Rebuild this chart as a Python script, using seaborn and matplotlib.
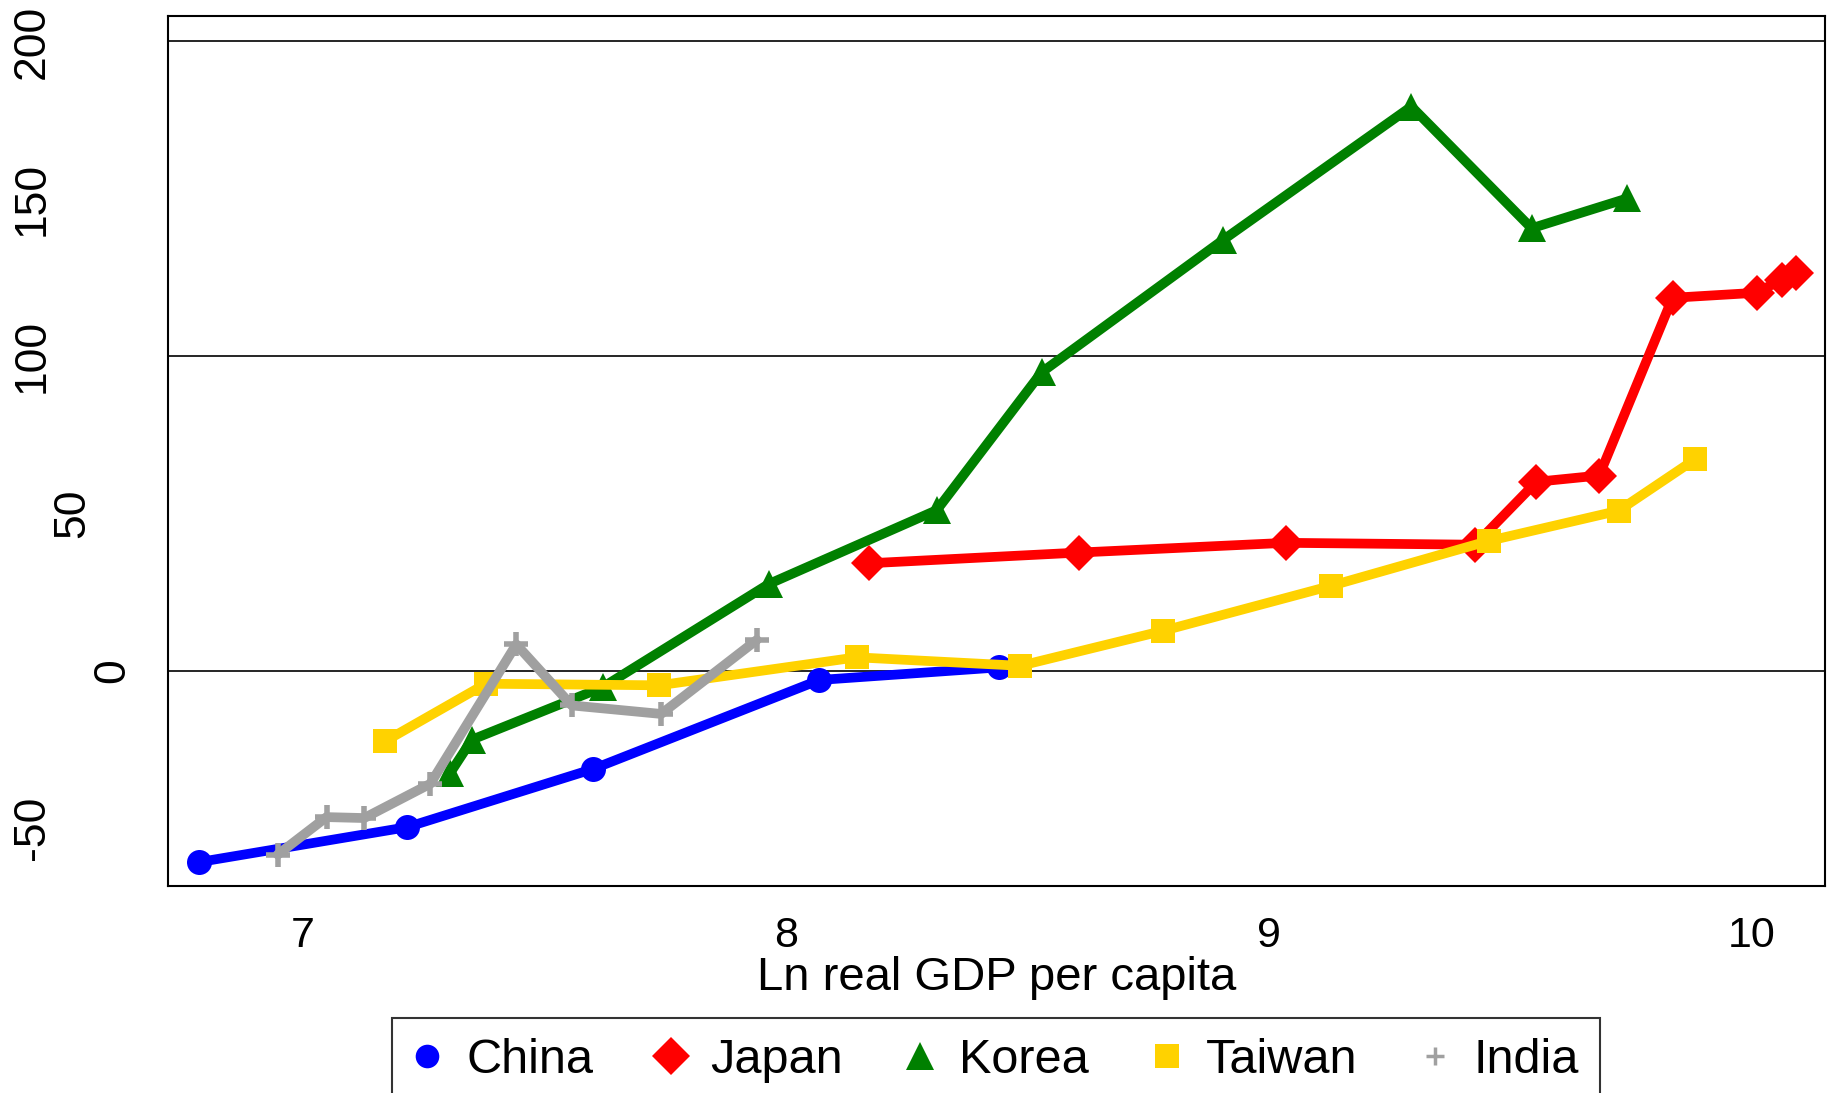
import numpy as np
import pandas as pd
import matplotlib
matplotlib.use("Agg")
import matplotlib.pyplot as plt
import matplotlib.transforms as mtransforms
from matplotlib.lines import Line2D
import seaborn as sns

# Series: log real GDP per capita (x) against the indicator value (y)
china_x = [6.785, 7.216, 7.601, 8.070, 8.442]
china_y = [-60.9, -49.8, -31.3, -3.0, 1.0]
japan_x = [8.173, 8.607, 9.036, 9.428, 9.555, 9.685, 9.837, 10.011, 10.063, 10.092]
japan_y = [34.1, 37.5, 40.6, 40.0, 60.0, 62.0, 118.5, 120.1, 124.3, 126.4]
korea_x = [7.305, 7.350, 7.621, 7.965, 8.313, 8.530, 8.906, 9.296, 9.545, 9.743]
korea_y = [-32.6, -22.0, -5.3, 27.5, 51.0, 94.8, 136.9, 179.3, 140.6, 150.1]
taiwan_x = [7.170, 7.379, 7.738, 8.147, 8.486, 8.781, 9.129, 9.456, 9.725, 9.884]
taiwan_y = [-22.5, -4.2, -4.7, 4.2, 1.5, 12.6, 26.9, 41.2, 50.8, 67.2]
india_x = [6.948, 7.049, 7.127, 7.264, 7.442, 7.557, 7.742, 7.940]
india_y = [-58.5, -46.6, -46.9, -36.0, 8.3, -11.1, -13.8, 9.7]

countries = ["China", "Japan", "Korea", "Taiwan", "India"]
x_ticks = [7, 8, 9, 10]
y_ticks = [-50, 0, 50, 100, 150, 200]
ref_lines = [0, 100, 200]

series = {
    "China": (china_x, china_y),
    "Japan": (japan_x, japan_y),
    "Korea": (korea_x, korea_y),
    "Taiwan": (taiwan_x, taiwan_y),
    "India": (india_x, india_y),
}
frames = [pd.DataFrame({"country": c, "lngdp": xs, "value": ys})
          for c, (xs, ys) in series.items()]
df = pd.concat(frames, ignore_index=True)

colors = {"China": "#0000FF", "Japan": "#FF0000", "Korea": "#008000",
          "Taiwan": "#FFD200", "India": "#A0A0A0"}
styles = {
    "China": dict(marker="o", markersize=18, markeredgewidth=0),
    "Japan": dict(marker="D", markersize=18, markeredgewidth=0),
    "Korea": dict(marker="^", markersize=20, markeredgewidth=0),
    "Taiwan": dict(marker="s", markersize=17, markeredgewidth=0),
    "India": dict(marker="+", markersize=17, markeredgewidth=4),
}

sns.set_style("white")
plt.rcParams["font.family"] = ["Liberation Sans", "DejaVu Sans"]
plt.rcParams["text.color"] = "black"
plt.rcParams["axes.labelcolor"] = "black"

fig = plt.figure(figsize=(18.33, 10.93), dpi=100)
ax = fig.add_axes([0.0917, 0.1894, 0.904, 0.796])

for y in ref_lines:
    ax.axhline(y, color="black", linewidth=1.2, zorder=1)

for c in countries:
    sub = df[df["country"] == c]
    sns.lineplot(data=sub, x="lngdp", y="value", ax=ax, estimator=None,
                 sort=False, legend=False, linewidth=7, zorder=3,
                 color=colors[c], markeredgecolor=colors[c],
                 markerfacecolor=colors[c], **styles[c])

ax.set_xlim(6.7208, 10.1529)
ax.set_ylim(-68.5, 208.1)
ax.set_xticks(x_ticks)
ax.set_yticks(y_ticks)
ax.set_xticklabels([str(t) for t in x_ticks])
ax.set_yticklabels([])
ax.tick_params(axis="both", direction="out", length=13.5, width=1.5,
               labelsize=31, colors="black")
ax.tick_params(axis="x", pad=8)

# Vertical y-axis labels; longer labels sit further from the axis
base = mtransforms.blended_transform_factory(ax.transAxes, ax.transData)
for t in y_ticks:
    s = str(t)
    off = (15.5 + 40.0 * len(s)) / 100.0
    tr = base + mtransforms.ScaledTranslation(-off, 0, fig.dpi_scale_trans)
    ax.text(0, t, s, transform=tr, rotation=90, ha="center", va="center",
            fontsize=32, color="black")

ax.set_xlabel("Ln real GDP per capita", fontsize=34, labelpad=0, color="black")
ax.set_ylabel("")
for s in ax.spines.values():
    s.set_visible(True)
    s.set_color("black")
    s.set_linewidth(1.5)

legend_sizes = {"China": 17, "Japan": 19, "Korea": 20, "Taiwan": 17, "India": 13}
handles = []
for c in countries:
    st = dict(styles[c])
    st["markersize"] = legend_sizes[c]
    if c == "India":
        st["markeredgewidth"] = 2.5
    handles.append(Line2D([], [], linestyle="none", color=colors[c],
                          markeredgecolor=colors[c], **st))
leg = fig.legend(handles, countries, loc="upper center",
                 bbox_to_anchor=(0.5434, 0.0686), ncol=5, fontsize=35,
                 frameon=True, fancybox=False, edgecolor="black",
                 handlelength=0.6, handletextpad=0.5, columnspacing=1.3,
                 borderpad=0.42, borderaxespad=0, labelcolor="black")
leg.get_frame().set_linewidth(1.5)

fig.savefig("out.png", dpi=100)
